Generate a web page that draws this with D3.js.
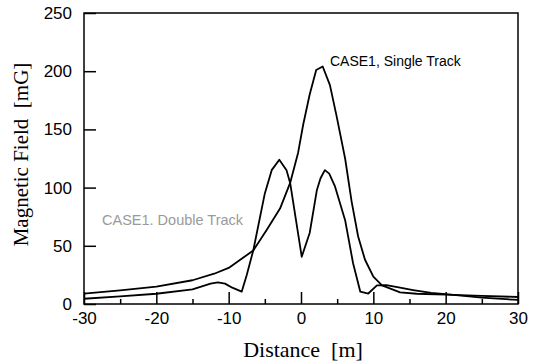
<!DOCTYPE html>
<html>
<head>
<meta charset="utf-8">
<script src="https://cdn.jsdelivr.net/npm/d3@7"></script>
<style>
  body { margin: 0; background: #fff; }
  svg { display: block; }
</style>
</head>
<body>
<div id="chart"></div>
<script>
// distance [m] and field [mG]
const singleDist = [-30, -25, -20, -15, -12, -10, -8.4, -6.6, -4.75, -2.9, -1.5, -0.4, 0.3, 1.2, 2.1, 3.0, 4.0, 4.9, 6.1, 7.0, 7.9, 8.85, 10, 11.2, 13.7, 16, 20, 25, 30];
const singleField = [9, 11.7, 15, 20.4, 26, 31, 38, 46, 63.6, 82, 104, 130, 154, 180, 201, 204, 188, 162, 125, 88, 58, 38, 23.5, 16, 10, 8.8, 8, 7, 6];

const doubleDist = [-30, -25, -20, -15, -12.5, -11.5, -10.5, -9.5, -8.2, -7.5, -6.6, -5.0, -4.05, -3.0, -2.0, -1.5, 0.1, 1.2, 2.2, 2.7, 3.3, 3.9, 4.7, 6.1, 7.2, 8.2, 9.3, 10.5, 11.8, 13.7, 15.5, 18, 20, 25, 30];
const doubleField = [4.5, 6.5, 8.8, 12.6, 17.5, 18.5, 17.5, 14, 10.6, 25, 46, 95, 115, 124, 115, 104, 40.6, 61, 98, 108, 115, 112, 101, 72, 35, 10.6, 9, 16, 16.3, 14, 12, 9.5, 8.5, 5.5, 3.5];

const xTicks = [-30, -20, -10, 0, 10, 20, 30];
const xMinorTicks = [-25, -15, -5, 5, 15, 25];
const yTicks = [0, 50, 100, 150, 200, 250];

const width = 540, height = 364;
const margin = {left: 84, right: 22, top: 13, bottom: 60};

const svg = d3.select('#chart').append('svg')
  .attr('width', width)
  .attr('height', height);

const x = d3.scaleLinear().domain([-30, 30]).range([margin.left, width - margin.right]);
const y = d3.scaleLinear().domain([0, 250]).range([height - margin.bottom, margin.top]);

// inward ticks, plain hyphen for negatives like the scan
const fmt = d => String(d);
const xAxis = svg.append('g')
  .attr('transform', `translate(0,${y(0)})`)
  .call(d3.axisBottom(x).tickValues(xTicks).tickSizeInner(-12).tickSizeOuter(0).tickPadding(8).tickFormat(fmt));
const xMinor = svg.append('g')
  .attr('transform', `translate(0,${y(0)})`)
  .call(d3.axisBottom(x).tickValues(xMinorTicks).tickSizeInner(-5).tickSizeOuter(0).tickFormat(''));
const yAxis = svg.append('g')
  .attr('transform', `translate(${x(-30)},0)`)
  .call(d3.axisLeft(y).tickValues(yTicks).tickSizeInner(-12).tickSizeOuter(0).tickPadding(12).tickFormat(fmt));

[xAxis, xMinor, yAxis].forEach(g => {
  g.select('.domain').remove();
  g.selectAll('line').attr('stroke', '#000').attr('stroke-width', 1.5);
  g.selectAll('text')
    .attr('fill', '#000')
    .style('font-family', 'Liberation Sans, Arial, sans-serif')
    .style('font-size', '17px');
});

svg.append('rect')
  .attr('x', x(-30)).attr('y', y(250))
  .attr('width', x(30) - x(-30)).attr('height', y(0) - y(250))
  .attr('fill', 'none').attr('stroke', '#000').attr('stroke-width', 1.5);

const line = d3.line()
  .x(d => x(d[0]))
  .y(d => y(d[1]));

const series = [
  d3.zip(singleDist, singleField),
  d3.zip(doubleDist, doubleField)
];

svg.append('g')
  .selectAll('path')
  .data(series)
  .join('path')
  .attr('d', line)
  .attr('fill', 'none')
  .attr('stroke', '#000')
  .attr('stroke-width', 1.8)
  .attr('stroke-linejoin', 'round');

svg.append('text')
  .attr('x', 330).attr('y', 66)
  .style('font-family', 'Liberation Sans, Arial, sans-serif')
  .style('font-size', '14px')
  .text('CASE1, Single Track');

svg.append('text')
  .attr('x', 102).attr('y', 225)
  .attr('fill', '#9a9a9a')
  .style('font-family', 'Liberation Sans, Arial, sans-serif')
  .style('font-size', '14.5px')
  .text('CASE1. Double Track');

svg.append('text')
  .attr('x', (x(-30) + x(30)) / 2 + 2)
  .attr('y', 357)
  .attr('text-anchor', 'middle')
  .style('font-family', 'Liberation Serif, Times New Roman, serif')
  .style('font-size', '22px')
  .attr('xml:space', 'preserve')
  .text('Distance  [m]');

svg.append('text')
  .attr('transform', `translate(28,${(y(0) + y(250)) / 2 - 4}) rotate(-90)`)
  .attr('text-anchor', 'middle')
  .style('font-family', 'Liberation Serif, Times New Roman, serif')
  .style('font-size', '21px')
  .attr('xml:space', 'preserve')
  .text('Magnetic Field  [mG]');
</script>
</body>
</html>
